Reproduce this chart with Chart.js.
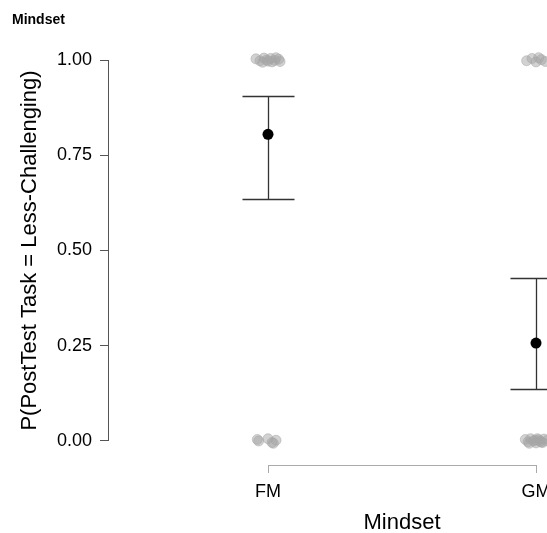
<!DOCTYPE html>
<html lang="en">
  <head>
    <meta charset="UTF-8" />
    <title>Mindset</title>
    <script src="https://cdn.jsdelivr.net/npm/chart.js"></script>
    <style>
      html, body { margin: 0; padding: 0; background: #fff; }
      #wrap { width: 547px; height: 533px; }
    </style>
  </head>
  <body>
    <div id="wrap"><canvas id="chart" width="547" height="533"></canvas></div>
    <script>
      const categories = ["FM", "GM"];
      const means = [0.805, 0.257];
      const ciLow = [0.635, 0.137];
      const ciHigh = [0.906, 0.428];
      const yTicks = [0, 0.25, 0.5, 0.75, 1];

      // raw responses (1 = less-challenging), with the jitter
      const fmTopX = [-0.045, -0.03, -0.015, 0.0, 0.01, 0.025, 0.04, -0.02, 0.015, 0.03, -0.005, 0.045];
      const fmTopY = [1.003, 0.998, 1.005, 0.997, 1.004, 0.999, 1.002, 0.994, 0.995, 1.006, 1.0, 0.996];
      const fmBottomX = [-0.04, -0.035, 0.0, 0.015, 0.03, 0.02];
      const fmBottomY = [0.004, 0.0, 0.006, -0.004, 0.002, -0.006];
      const gmTopX = [-0.035, -0.015, 0.0, 0.02, 0.035, 0.01];
      const gmTopY = [0.998, 1.004, 0.995, 1.001, 0.996, 1.006];
      const gmBottomX = [-0.04, -0.03, -0.02, -0.01, 0.0, 0.01, 0.02, 0.03, 0.04, -0.025, 0.005, 0.025, -0.005, 0.015];
      const gmBottomY = [0.004, -0.002, 0.006, 0.0, -0.005, 0.003, -0.003, 0.005, 0.001, -0.006, 0.006, -0.004, 0.002, -0.001];

      const jitter = [];
      fmTopX.forEach((d, i) => jitter.push({ x: 0 + d, y: fmTopY[i] }));
      fmBottomX.forEach((d, i) => jitter.push({ x: 0 + d, y: fmBottomY[i] }));
      gmTopX.forEach((d, i) => jitter.push({ x: 1 + d, y: gmTopY[i] }));
      gmBottomX.forEach((d, i) => jitter.push({ x: 1 + d, y: gmBottomY[i] }));

      const font = "'Liberation Sans', Arial, sans-serif";

      const extras = {
        id: "extras",
        beforeDatasetsDraw(chart) {
          const { ctx, scales } = chart;
          const x = scales.x, y = scales.y;
          ctx.save();
          // y axis line, 0 to 1 only
          ctx.strokeStyle = "#555";
          ctx.lineWidth = 1;
          ctx.beginPath();
          ctx.moveTo(x.left + 0.5, y.getPixelForValue(0));
          ctx.lineTo(x.left + 0.5, y.getPixelForValue(1));
          ctx.stroke();
          // x axis line, FM to GM
          ctx.strokeStyle = "#aaa";
          ctx.beginPath();
          ctx.moveTo(x.getPixelForValue(0), y.bottom + 0.5);
          ctx.lineTo(x.getPixelForValue(1), y.bottom + 0.5);
          ctx.stroke();
          ctx.restore();
        },
        afterDatasetsDraw(chart) {
          const { ctx, scales } = chart;
          const x = scales.x, y = scales.y;
          ctx.save();
          ctx.strokeStyle = "#333";
          ctx.lineWidth = 1.3;
          categories.forEach((c, i) => {
            const px = Math.round(x.getPixelForValue(i)) + 0.5;
            const lo = y.getPixelForValue(ciLow[i]);
            const hi = y.getPixelForValue(ciHigh[i]);
            ctx.beginPath();
            ctx.moveTo(px, lo);
            ctx.lineTo(px, hi);
            ctx.moveTo(px - 26, Math.round(lo) + 0.5);
            ctx.lineTo(px + 26, Math.round(lo) + 0.5);
            ctx.moveTo(px - 26, Math.round(hi) + 0.5);
            ctx.lineTo(px + 26, Math.round(hi) + 0.5);
            ctx.stroke();
          });
          // the means, on top of the bars
          ctx.fillStyle = "#000";
          means.forEach((m, i) => {
            ctx.beginPath();
            ctx.arc(x.getPixelForValue(i), y.getPixelForValue(m), 5.5, 0, Math.PI * 2);
            ctx.fill();
          });
          ctx.restore();
        },
        afterDraw(chart) {
          const { ctx, scales } = chart;
          const x = scales.x, y = scales.y;
          ctx.save();
          ctx.fillStyle = "#000";
          ctx.textBaseline = "middle";
          ctx.font = "bold 14px " + font;
          ctx.fillText("Mindset", 12, 20);
          // axis titles centred on the drawn axis lines
          ctx.textAlign = "center";
          ctx.font = "22px " + font;
          ctx.fillText("Mindset", (x.getPixelForValue(0) + x.getPixelForValue(1)) / 2, 523);
          ctx.translate(30, (y.getPixelForValue(0) + y.getPixelForValue(1)) / 2);
          ctx.rotate(-Math.PI / 2);
          ctx.fillText("P(PostTest Task = Less-Challenging)", 0, 0);
          ctx.restore();
        },
      };

      new Chart(document.getElementById("chart"), {
        type: "scatter",
        data: {
          datasets: [
            {
              data: jitter,
              backgroundColor: "rgba(165,165,165,0.5)",
              borderColor: "rgba(165,165,165,0.5)",
              pointRadius: 5,
              clip: false,
            },
          ],
        },
        options: {
          responsive: false,
          animation: false,
          layout: { autoPadding: false, padding: { top: 60, left: 0, right: 0, bottom: 0 } },
          plugins: {
            legend: { display: false },
            tooltip: { enabled: false },
            title: { display: false },
          },
          scales: {
            x: {
              type: "linear",
              min: -0.597,
              max: 1.041,
              afterBuildTicks: (s) => { s.ticks = [{ value: 0 }, { value: 1 }]; },
              afterFit: (s) => { s.height = 68; s.paddingLeft = 0; s.paddingRight = 0; },
              border: { display: false },
              grid: { drawOnChartArea: false, tickLength: 8, color: "#aaa" },
              ticks: {
                callback: (v) => categories[v],
                color: "#000",
                font: { family: font, size: 18 },
                padding: 8,
                maxRotation: 0,
              },
            },
            y: {
              min: -0.063,
              max: 1.0,
              afterBuildTicks: (s) => { s.ticks = yTicks.map((v) => ({ value: v })); },
              afterFit: (s) => { s.width = 108; s.paddingTop = 0; s.paddingBottom = 0; },
              border: { display: false },
              grid: { drawOnChartArea: false, tickLength: 8, color: "#555" },
              ticks: {
                callback: (v) => v.toFixed(2),
                color: "#000",
                font: { family: font, size: 18 },
                padding: 8,
              },
            },
          },
        },
        plugins: [extras],
      });
    </script>
  </body>
</html>
